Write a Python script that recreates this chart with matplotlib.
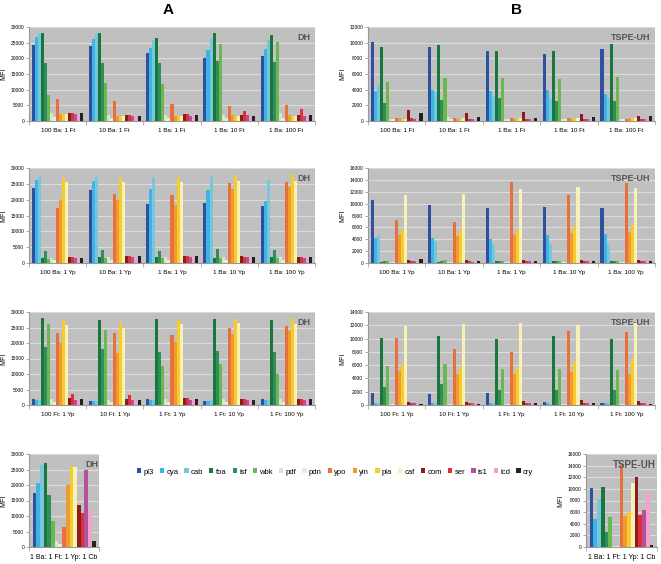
import numpy as np
import matplotlib
matplotlib.use('Agg')
import matplotlib.pyplot as plt
from matplotlib.patches import Patch

plt.rcParams['font.family'] = ['Liberation Sans', 'DejaVu Sans']

# antigen series (17 bars in every group)
series = ['pl3', 'cya', 'cab', 'foa', 'isf', 'wbk', 'pdf', 'pdn', 'ypo',
          'yin', 'pla', 'caf', 'com', 'ser', 'is1', 'icd', 'cry']
colors = ['#2f4f9f', '#3db4e6', '#78c6dc', '#19773c', '#2f8e5a', '#6cb850',
          '#d6e9c6', '#e3efd9', '#e8703a', '#f09a32', '#f6cc2c', '#f8f0b4',
          '#8a1c1c', '#df2f39', '#b2529c', '#f0a2c8', '#222222']

groups_ba_ft = ['100 Ba: 1 Ft', '10 Ba: 1 Ft', '1 Ba: 1 Ft', '1 Ba: 10 Ft', '1 Ba: 100 Ft']
groups_ba_yp = ['100 Ba: 1 Yp', '10 Ba: 1 Yp', '1 Ba: 1 Yp', '1 Ba: 10 Yp', '1 Ba: 100 Yp']
groups_ft_yp = ['100 Ft: 1 Yp', '10 Ft: 1 Yp', '1 Ft: 1 Yp', '1 Ft: 10 Yp', '1 Ft: 100 Yp']
groups_all = ['1 Ba: 1 Ft: 1 Yp: 1 Cb']

# DH, Ba:Ft  (rows = groups, columns = series)
dh_ba_ft = [
    [24100, 26700, 28000, 28000, 18600, 8200, 2500, 1300, 7100, 2100, 2100, 2100, 2500, 2700, 2100, 1900, 2400],
    [23800, 26200, 28000, 28000, 18600, 12200, 1800, 1000, 6400, 1500, 1500, 1500, 1800, 2000, 1500, 1500, 1700],
    [21600, 23400, 25900, 26400, 18400, 11700, 1800, 1000, 5300, 1600, 1600, 1600, 2100, 2100, 1600, 1500, 2000],
    [20000, 22700, 26500, 28200, 19300, 24700, 1800, 1000, 4800, 2000, 1600, 1600, 1800, 3300, 1800, 1600, 1700],
    [20800, 23000, 25800, 27600, 18900, 25200, 2500, 1000, 5000, 1800, 1700, 1700, 2000, 3800, 1700, 1600, 1900],
]
# TSPE-UH, Ba:Ft
uh_ba_ft = [
    [10100, 3850, 4600, 9500, 2300, 5000, 300, 200, 400, 400, 300, 300, 1350, 400, 300, 250, 1000],
    [9400, 3900, 3700, 9700, 2700, 5500, 450, 200, 400, 300, 300, 350, 1050, 300, 300, 250, 550],
    [9000, 3800, 3100, 8900, 2900, 5500, 200, 200, 350, 300, 350, 350, 1200, 300, 300, 300, 400],
    [8500, 3900, 2800, 8900, 2600, 5400, 200, 200, 350, 300, 350, 350, 900, 300, 300, 300, 450],
    [9200, 3500, 3000, 9800, 2600, 5600, 200, 200, 300, 350, 350, 400, 700, 300, 300, 300, 700],
]
# DH, Ba:Yp
dh_ba_yp = [
    [23700, 26300, 27100, 1600, 3900, 1300, 1600, 900, 17300, 20000, 26900, 25500, 1800, 1800, 1700, 1700, 1700],
    [23200, 26000, 27200, 2000, 4000, 1600, 1800, 1000, 21800, 19800, 26700, 25600, 2100, 2100, 2000, 2000, 2100],
    [18500, 23300, 27200, 2000, 3700, 1600, 1800, 1000, 21500, 18200, 27200, 25600, 2200, 2100, 2000, 1900, 2100],
    [19000, 23000, 27500, 1700, 4300, 1500, 1800, 1000, 25300, 23300, 27800, 26000, 2100, 2000, 1800, 1700, 2000],
    [18100, 19600, 26200, 2000, 4000, 1500, 1800, 1000, 25600, 24000, 28000, 25800, 2000, 1900, 1700, 1600, 2000],
]
# TSPE-UH, Ba:Yp
uh_ba_yp = [
    [10600, 4200, 4500, 200, 300, 300, 100, 100, 7200, 4700, 5500, 11500, 450, 300, 300, 300, 700],
    [9700, 4200, 3700, 250, 300, 450, 100, 100, 6900, 4600, 5500, 11600, 450, 300, 250, 250, 400],
    [9300, 4000, 3000, 300, 300, 350, 100, 100, 13600, 4700, 5600, 12400, 500, 300, 300, 300, 400],
    [9500, 4700, 3200, 300, 300, 350, 100, 100, 11400, 5100, 6300, 12800, 500, 300, 300, 300, 350],
    [9200, 4900, 3000, 300, 300, 300, 100, 100, 13500, 5200, 6400, 12600, 500, 300, 300, 300, 400],
]
# DH, Ft:Yp
dh_ft_yp = [
    [1800, 1600, 1500, 28000, 18700, 26000, 2000, 1000, 23200, 20000, 27400, 25800, 2100, 3600, 1700, 1700, 1800],
    [1400, 1300, 1300, 27300, 18000, 24300, 1700, 1000, 23200, 16700, 26500, 24900, 1900, 3200, 1500, 1400, 1600],
    [1900, 1600, 1600, 27800, 17200, 12600, 2000, 1000, 22600, 20400, 27400, 26100, 2100, 2200, 1700, 1700, 1900],
    [1400, 1300, 1500, 27900, 17400, 13200, 2000, 1000, 25000, 22800, 27600, 26500, 1800, 1900, 1500, 1400, 1600],
    [1800, 1600, 1600, 27300, 17000, 10000, 2000, 1000, 25400, 24000, 28000, 26200, 2000, 2000, 1600, 1600, 1800],
]
# TSPE-UH, Ft:Yp
uh_ft_yp = [
    [1800, 350, 300, 10100, 2750, 5800, 200, 200, 10100, 5100, 6000, 11900, 400, 250, 250, 250, 200],
    [1600, 300, 300, 10400, 3200, 6100, 200, 200, 8400, 4700, 5700, 12200, 450, 250, 250, 250, 200],
    [1800, 300, 300, 9900, 2300, 5400, 200, 200, 8000, 4700, 5700, 12300, 550, 250, 250, 250, 250],
    [500, 300, 200, 10400, 2200, 5400, 200, 200, 11100, 5000, 6400, 12100, 800, 300, 250, 250, 250],
    [300, 350, 300, 10000, 2200, 5200, 200, 200, 11000, 4700, 6900, 12500, 600, 300, 250, 250, 200],
]
# all four agents
dh_all = [[17300, 20700, 26600, 27000, 16900, 8300, 2000, 1100, 6400, 20000, 26100, 25700, 13700, 11000, 24800, 11800, 1900]]
uh_all = [[10200, 4900, 8200, 10300, 2500, 5200, 150, 100, 14100, 5300, 6000, 11000, 12100, 5500, 6400, 9600, 300]]

W, H = 661, 564


def box(x0, y0, x1, y1):
    return [x0 / W, 1 - y1 / H, (x1 - x0) / W, (y1 - y0) / H]


def panel(fig, rect, data, groups, ymax, step, tag, labsize=4.5, tagsize=6.5):
    ax = fig.add_axes(rect)
    ax.set_facecolor('#c0c0c0')
    data = np.array(data)
    n = len(series)
    w = 0.9 / n
    x = np.arange(len(groups))
    for j in range(n):
        ax.bar(x - 0.45 + w * (j + 0.5), data[:, j], width=w, color=colors[j], linewidth=0, zorder=3)
    ax.set_xlim(-0.5, len(groups) - 0.5)
    ax.set_ylim(0, ymax)
    ax.set_yticks(np.arange(0, ymax + 1, step))
    ax.yaxis.grid(True, color='#dcdcdc', linewidth=0.8, zorder=0)
    ax.set_xticks(x)
    ax.set_xticklabels(groups, fontsize=labsize)
    ax.set_xticks(np.arange(len(groups) + 1) - 0.5, minor=True)
    ax.tick_params(axis='x', which='major', length=0, pad=5)
    ax.tick_params(axis='x', which='minor', length=3, width=0.6, color='#aaaaaa')
    ax.tick_params(axis='y', labelsize=3.5, length=2, width=0.5, pad=1.5, color='#888888')
    for s in ['top', 'right']:
        ax.spines[s].set_visible(False)
    ax.spines['left'].set_color('#999999')
    ax.spines['bottom'].set_color('#999999')
    ax.set_ylabel('MFI', fontsize=5, labelpad=2.5)
    ax.text(0.985, 0.94, tag, transform=ax.transAxes, ha='right', va='top',
            fontsize=tagsize, fontweight='bold', color='#555555', zorder=5)
    return ax


fig = plt.figure(figsize=(W / 100, H / 100), dpi=100)

panel(fig, box(29, 27, 315, 121), dh_ba_ft, groups_ba_ft, 30000, 5000, 'DH')
panel(fig, box(368, 27, 655, 121), uh_ba_ft, groups_ba_ft, 12000, 2000, 'TSPE-UH')
panel(fig, box(29, 168, 315, 263), dh_ba_yp, groups_ba_yp, 30000, 5000, 'DH')
panel(fig, box(368, 168, 655, 263), uh_ba_yp, groups_ba_yp, 16000, 2000, 'TSPE-UH')
panel(fig, box(29, 312, 315, 405), dh_ft_yp, groups_ft_yp, 30000, 5000, 'DH')
panel(fig, box(368, 312, 655, 405), uh_ft_yp, groups_ft_yp, 14000, 2000, 'TSPE-UH')
panel(fig, box(29, 454, 99, 547), dh_all, groups_all, 30000, 5000, 'DH', 5.0, 6.5)
panel(fig, box(586, 454, 657, 547), uh_all, groups_all, 16000, 2000, 'TSPE-UH', 5.0, 7)

fig.text(168 / W, 1 - 10 / H, 'A', ha='center', va='center', fontsize=11, fontweight='bold')
fig.text(516 / W, 1 - 10 / H, 'B', ha='center', va='center', fontsize=11, fontweight='bold')

handles = [Patch(facecolor=c, edgecolor='none') for c in colors]
fig.legend(handles, series, loc='center', bbox_to_anchor=(335 / W, 1 - 472 / H), ncol=17,
           fontsize=5.5, frameon=False, handlelength=0.55, handleheight=0.6,
           handletextpad=0.3, columnspacing=0.8)

plt.savefig('out.png', dpi=100)
